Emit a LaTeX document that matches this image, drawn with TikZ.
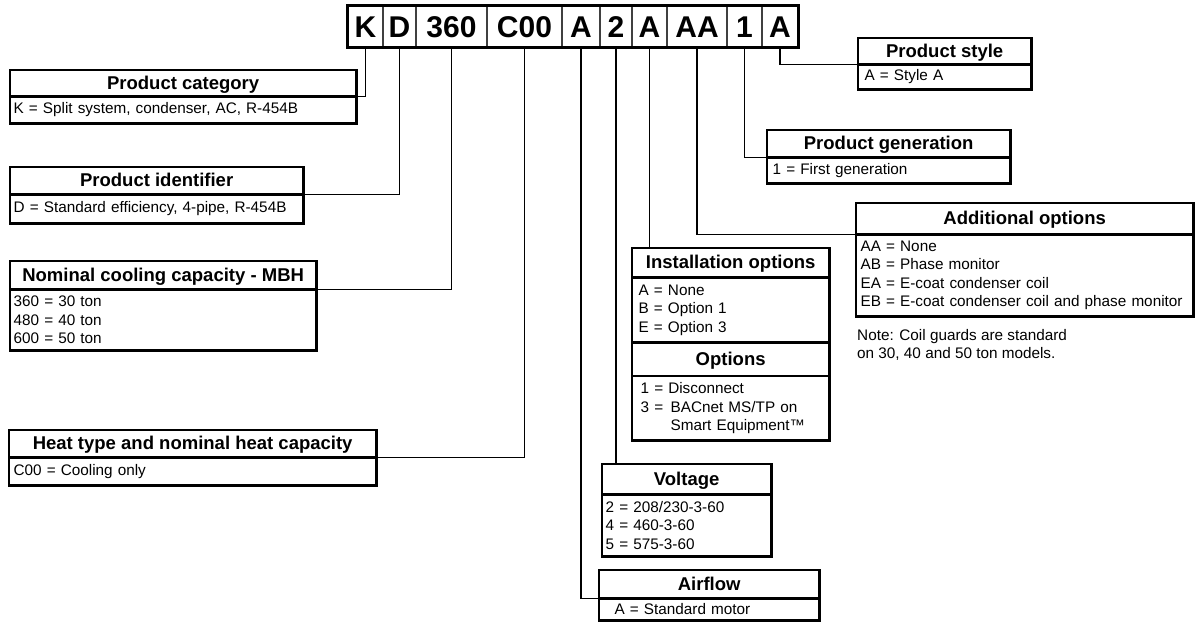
\documentclass[tikz,border=0pt]{standalone}
\usepackage{fontspec}
\setmainfont{Liberation Sans}
\newcommand\mycodefont{\fontsize{30}{32}\selectfont\bfseries}
\newcommand\mytitlefont{\fontsize{18.5}{20}\selectfont\bfseries}
\newcommand\mybodyfont{\fontsize{15.3}{18.5}\selectfont}
\begin{document}
\begin{tikzpicture}[x=1pt,y=-1pt,
  cell/.style={draw=black!75, line width=1.3pt, minimum height=41pt, inner sep=0pt, font=\mycodefont, text height=21.5pt, text depth=0pt},
  hdr/.style={draw, line width=1.3pt, anchor=north west, inner sep=0pt, font=\mytitlefont, text height=12.6pt, text depth=0pt},
  bdy/.style={draw, line width=1.3pt, anchor=north west, inner ysep=0pt, align=left, font=\mybodyfont},
  frame/.style={draw, line width=2.8pt},
  conn/.style={draw, line width=1.3pt},
  notetext/.style={anchor=north west, inner sep=0pt, align=left, font=\mybodyfont}
]
\useasboundingbox (0,0) rectangle (1196,621);

% code cells
\node[cell, minimum width=35] (cK)   at (365.5,26.5) {K};
\node[cell, minimum width=33] (cD)   at (399.5,26.5) {D};
\node[cell, minimum width=71] (cN)   at (451.5,26.5) {360};
\node[cell, minimum width=75] (cC)   at (524.5,26.5) {C00};
\node[cell, minimum width=38] (cAf)  at (581,26.5) {A};
\node[cell, minimum width=32] (cV)   at (616,26.5) {2};
\node[cell, minimum width=35] (cI)   at (649.5,26.5) {A};
\node[cell, minimum width=60] (cAA)  at (697,26.5) {AA};
\node[cell, minimum width=35] (cG)   at (744.5,26.5) {1};
\node[cell, minimum width=36] (cS)   at (780,26.5) {A};
\path[frame] (cK.north west) rectangle (cS.south east);

% Product category
\node[hdr, minimum width=345, minimum height=25] (catH) at (10,70) {Product category};
\node[bdy, inner xsep=3pt, text width=339, minimum height=26] (catB) at (catH.south west) {K = Split system, condenser, AC, R-454B};
\path[frame] (catH.north west) rectangle (catB.south east);

% Product identifier
\node[hdr, minimum width=292, minimum height=26] (idH) at (10,167) {Product identifier};
\node[bdy, inner xsep=3pt, text width=286, minimum height=28] (idB) at (idH.south west) {D = Standard efficiency, 4-pipe, R-454B};
\path[frame] (idH.north west) rectangle (idB.south east);

% Nominal cooling capacity
\node[hdr, minimum width=305, minimum height=27] (nomH) at (10,261) {Nominal cooling capacity - MBH};
\node[bdy, inner xsep=3pt, text width=299, minimum height=60] (nomB) at (nomH.south west) {360 = 30 ton\\480 = 40 ton\\600 = 50 ton};
\path[frame] (nomH.north west) rectangle (nomB.south east);

% Heat type
\node[hdr, minimum width=366, minimum height=26] (heatH) at (9,430) {Heat type and nominal heat capacity};
\node[bdy, inner xsep=4pt, text width=358, minimum height=27] (heatB) at (heatH.south west) {C00 = Cooling only};
\path[frame] (heatH.north west) rectangle (heatB.south east);

% Product style
\node[hdr, minimum width=172, minimum height=25] (stH) at (858,38) {Product style};
\node[bdy, inner xsep=6pt, text width=160, minimum height=24] (stB) at (stH.south west) {A = Style A};
\path[frame] (stH.north west) rectangle (stB.south east);

% Product generation
\node[hdr, minimum width=242, minimum height=26] (genH) at (767,130) {Product generation};
\node[bdy, inner xsep=5pt, text width=232, minimum height=25] (genB) at (genH.south west) {1 = First generation};
\path[frame] (genH.north west) rectangle (genB.south east);

% Additional options
\node[hdr, minimum width=336, minimum height=30] (addH) at (856,203) {Additional options};
\node[bdy, inner xsep=4pt, text width=328, minimum height=81] (addB) at (addH.south west) {AA = None\\AB = Phase monitor\\EA = E-coat condenser coil\\EB = E-coat condenser coil and phase monitor};
\path[frame] (addH.north west) rectangle (addB.south east);
\node[notetext] (note) at (857,329) {Note: Coil guards are standard\\on 30, 40 and 50 ton models.};

% Installation options
\node[hdr, minimum width=196, minimum height=28] (instH) at (632,248) {Installation options};
\node[bdy, inner xsep=6pt, text width=184, minimum height=64] (instB) at (instH.south west) {A = None\\B = Option 1\\E = Option 3};
\node[hdr, minimum width=196, minimum height=32] (optH) at (instB.south west) {Options};
\node[bdy, inner xsep=8pt, text width=180, minimum height=63] (optB) at (optH.south west) {1 = Disconnect\\\makebox[30pt][l]{3 =}BACnet MS/TP on\\\hspace*{30pt}Smart Equipment™};
\path[frame] (instH.north west) rectangle (optB.south east);

% Voltage
\node[hdr, minimum width=168, minimum height=29] (voltH) at (602,464) {Voltage};
\node[bdy, inner xsep=3pt, text width=162, minimum height=61] (voltB) at (voltH.south west) {2 = 208/230-3-60\\4 = 460-3-60\\5 = 575-3-60};
\path[frame] (voltH.north west) rectangle (voltB.south east);

% Airflow
\node[hdr, minimum width=219, minimum height=27] (airH) at (599,570) {Airflow};
\node[bdy, inner xsep=15pt, text width=189, minimum height=21] (airB) at (airH.south west) {A = Standard motor};
\path[frame] (airH.north west) rectangle (airB.south east);

% connectors
\path[conn] (cK.south) |- (catH.south east);
\path[conn] (cD.south) |- (idH.south east);
\path[conn] (cN.south) |- (nomH.south east);
\path[conn] (cC.south) |- (heatH.south east);
\path[conn] (cAf.south) |- (airH.south west);
\path[conn] (cV.south) -- (cV.south |- voltH.north);
\path[conn] (cI.south) -- (cI.south |- instH.north);
\path[conn] (cAA.south) |- (addH.south west);
\path[conn] (cG.south) |- (genH.south west);
\path[conn] (cS.south) |- (stH.south west);
\end{tikzpicture}
\end{document}
